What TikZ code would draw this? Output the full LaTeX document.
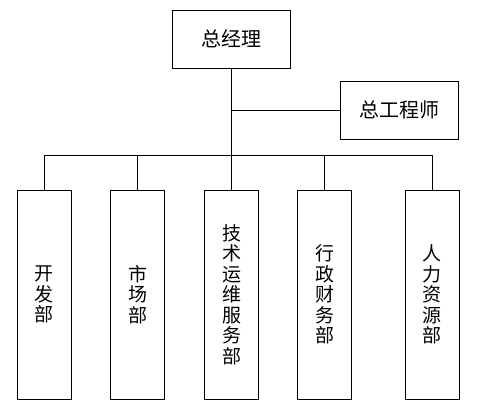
\documentclass[tikz,border=0pt]{standalone}
\usepackage{fontspec}
\setmainfont{Noto Sans CJK SC}
\tikzset{
	topbox/.style={draw,minimum width=118pt,minimum height=58pt,font=\fontsize{20}{20}\selectfont},
	deptbox/.style={draw,minimum width=54pt,minimum height=209pt,align=center,font=\fontsize{19}{20.5}\selectfont}
}
\begin{document}
\begin{tikzpicture}[x=1pt,y=-1pt,line width=0.8pt]
			\useasboundingbox (0,0) rectangle (477,419);
			\node[topbox] (zjl) at(231.5,39){总经理};
			\node[topbox] (zgcs) at(399,110){总工程师};
			\node[deptbox] (kf) at(44.3,294.5){开\\发\\部};
			\node[deptbox] (sc) at(137.8,294.5){市\\场\\部};
			\node[deptbox] (js) at(231.5,294.5){技\\术\\运\\维\\服\\务\\部};
			\node[deptbox] (xz) at(324.8,294.5){行\\政\\财\\务\\部};
			\node[deptbox] (rl) at(432.2,294.5){人\\力\\资\\源\\部};
			\coordinate (bus) at(231.5,155);
			\draw(zjl.south)--(js.north);
			\draw(zgcs.west)--(zjl.south |- zgcs.west);
			\draw(kf.north |- bus)--(rl.north |- bus);
			\draw(kf.north)--(kf.north |- bus);
			\draw(sc.north)--(sc.north |- bus);
			\draw(xz.north)--(xz.north |- bus);
			\draw(rl.north)--(rl.north |- bus);
			\end{tikzpicture}
\end{document}
